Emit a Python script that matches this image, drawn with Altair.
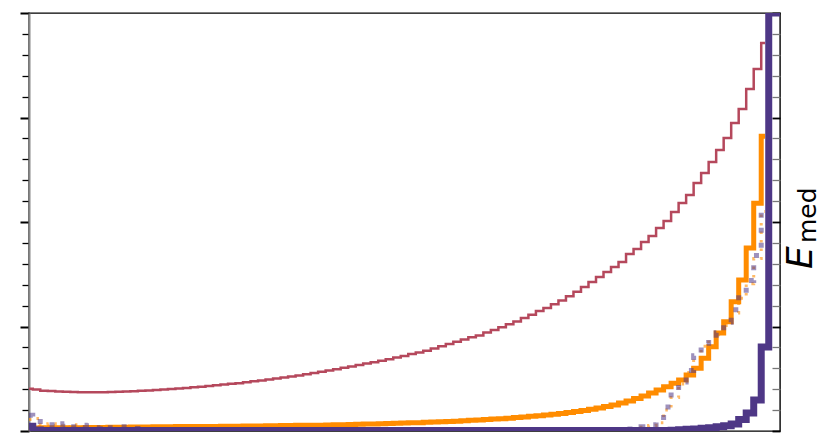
import altair as alt
import pandas as pd

# ---- data ----
red_vals = [2.02, 1.98, 1.93, 1.91, 1.89, 1.88, 1.87, 1.86, 1.86, 1.86,
            1.86, 1.87, 1.88, 1.89, 1.90, 1.92, 1.94, 1.96, 1.98, 2.01,
            2.03, 2.06, 2.09, 2.12, 2.15, 2.19, 2.22, 2.26, 2.29, 2.33,
            2.38, 2.42, 2.47, 2.51, 2.56, 2.61, 2.66, 2.72, 2.78, 2.84,
            2.90, 2.96, 3.03, 3.09, 3.16, 3.23, 3.29, 3.36, 3.43, 3.52,
            3.59, 3.68, 3.76, 3.84, 3.95, 4.06, 4.16, 4.27, 4.38, 4.48,
            4.57, 4.71, 4.83, 4.97, 5.11, 5.24, 5.41, 5.56, 5.74, 5.89,
            6.06, 6.25, 6.45, 6.66, 6.89, 7.13, 7.37, 7.61, 7.85, 8.09,
            8.47, 8.71, 9.04, 9.33, 9.71, 10.05, 10.48, 10.91, 11.29, 11.87,
            12.34, 12.87, 13.44, 14.02, 14.74, 15.41, 16.36, 17.32, 18.56]

orange_vals = [0.14, 0.14, 0.15, 0.15, 0.15, 0.16, 0.16, 0.16, 0.17, 0.17,
               0.17, 0.18, 0.18, 0.18, 0.19, 0.19, 0.19, 0.20, 0.20, 0.20,
               0.21, 0.21, 0.21, 0.22, 0.22, 0.22, 0.23, 0.23, 0.23, 0.24,
               0.24, 0.24, 0.25, 0.25, 0.26, 0.26, 0.27, 0.27, 0.28, 0.28,
               0.29, 0.30, 0.30, 0.31, 0.32, 0.33, 0.34, 0.35, 0.36, 0.37,
               0.38, 0.39, 0.40, 0.42, 0.43, 0.44, 0.46, 0.47, 0.49, 0.51,
               0.53, 0.55, 0.57, 0.59, 0.61, 0.64, 0.67, 0.70, 0.73, 0.76,
               0.80, 0.84, 0.88, 0.93, 0.98, 1.04, 1.10, 1.17, 1.25, 1.34,
               1.44, 1.55, 1.67, 1.82, 1.96, 2.12, 2.28, 2.44, 2.68, 3.00,
               3.48, 4.03, 4.69, 5.23, 6.19, 7.22, 8.76, 10.90, 14.10]

purple_vals = [0.23, 0.05] + [0.02] * 84 + [0.04, 0.06, 0.08, 0.10, 0.13,
               0.16, 0.20, 0.25, 0.33, 0.55, 0.86, 1.48, 4.02, 20.0, 20.0]

purple_dot_vals = [0.75, 0.45, 0.45, 0.30, 0.20, 0.35, 0.20, 0.28, 0.25, 0.15,
                   0.25, 0.15, 0.20, 0.20, 0.12] + [0.05] * 65 + \
                  [0.10, 0.14, 0.20, 0.30, 0.45, 1.15, 1.72, 2.35, 2.90, 3.60,
                   4.20, 4.45, 4.70, 5.20, 5.80, 6.50, 7.20, 8.40, 10.70]

orange_dot_vals = [0.55, 0.60, 0.30, 0.35, 0.25, 0.20, 0.30, 0.18, 0.22, 0.15,
                   0.20, 0.12, 0.15, 0.12, 0.10] + [0.05] * 65 + \
                  [0.08, 0.12, 0.18, 0.26, 0.40, 1.00, 1.60, 2.25, 2.80, 3.45,
                   4.05, 4.35, 4.60, 5.05, 5.65, 6.35, 7.05, 8.25, 10.50]

y_ticks = list(range(0, 21))
x_ticks = [25, 50, 75]

RED = "#b5485c"
ORANGE = "#ff8c00"
PURPLE = "#4e3786"


def frame(vals):
    return pd.DataFrame({"x": list(range(len(vals))), "y": vals})


xs = alt.Scale(domain=[0, 100], nice=False, zero=False)
ys = alt.Scale(domain=[0, 20], nice=False, zero=False)

major = "datum.value % 5 === 0"

left_axis = alt.Axis(
    orient="left", values=y_ticks, labels=False, title=None, grid=False,
    domain=True, domainColor="#888888", domainWidth=2,
    tickColor="black",
    tickSize={"condition": {"test": major, "value": 9}, "value": 7},
    tickWidth={"condition": {"test": major, "value": 2}, "value": 1.3},
)
right_axis = alt.Axis(
    orient="right", values=y_ticks, labels=False, title=None, grid=False,
    domain=False, offset=-8, tickSize=8,
    tickColor={"condition": {"test": major, "value": "black"}, "value": "#777777"},
    tickWidth={"condition": {"test": major, "value": 1.8}, "value": 1.3},
)
bottom_axis = alt.Axis(
    orient="bottom", values=x_ticks, labels=False, title=None, grid=False,
    domain=False, offset=-4, tickSize=4, tickColor="black", tickWidth=1.5,
)


def line(vals, color, width, axis_y, axis_x=None, dash=None, opacity=1.0):
    kw = dict(interpolate="step", color=color, strokeWidth=width,
              opacity=opacity, clip=True)
    if dash:
        kw["strokeDash"] = dash
    return alt.Chart(frame(vals)).mark_line(**kw).encode(
        x=alt.X("x:Q", scale=xs, axis=axis_x),
        y=alt.Y("y:Q", scale=ys, axis=axis_y),
    )


red = line(red_vals, RED, 2.5, left_axis, bottom_axis)
orange = line(orange_vals, ORANGE, 5, right_axis, None)
odot = line(orange_dot_vals, ORANGE, 3, None, None, dash=[2.5, 6], opacity=0.6)
pdot = line(purple_dot_vals, PURPLE, 5, None, None, dash=[5, 10], opacity=0.55)
purple = line(purple_vals, PURPLE, 7, None, None)

label_e = alt.Chart(pd.DataFrame({"t": ["E"]})).mark_text(
    angle=270, align="left", baseline="alphabetic", font="DejaVu Sans",
    fontStyle="italic", fontSize=36, color="black",
).encode(text="t:N", x=alt.value(783), y=alt.value(256))

label_sub = alt.Chart(pd.DataFrame({"t": ["med"]})).mark_text(
    angle=270, align="left", baseline="alphabetic", font="DejaVu Sans",
    fontSize=25, color="black",
).encode(text="t:N", x=alt.value(787), y=alt.value(230))

chart = alt.layer(red, orange, odot, pdot, purple, label_e, label_sub).resolve_axis(
    y="independent"
).properties(
    width=751, height=418,
    autosize=alt.AutoSizeParams(type="none"),
    padding={"left": 21, "top": 5, "right": 42, "bottom": 8},
).configure(
    background="white",
    view=alt.ViewConfig(stroke="black", strokeWidth=1.4),
)

chart.save("out.html", embed_options={"renderer": "svg", "actions": False})
